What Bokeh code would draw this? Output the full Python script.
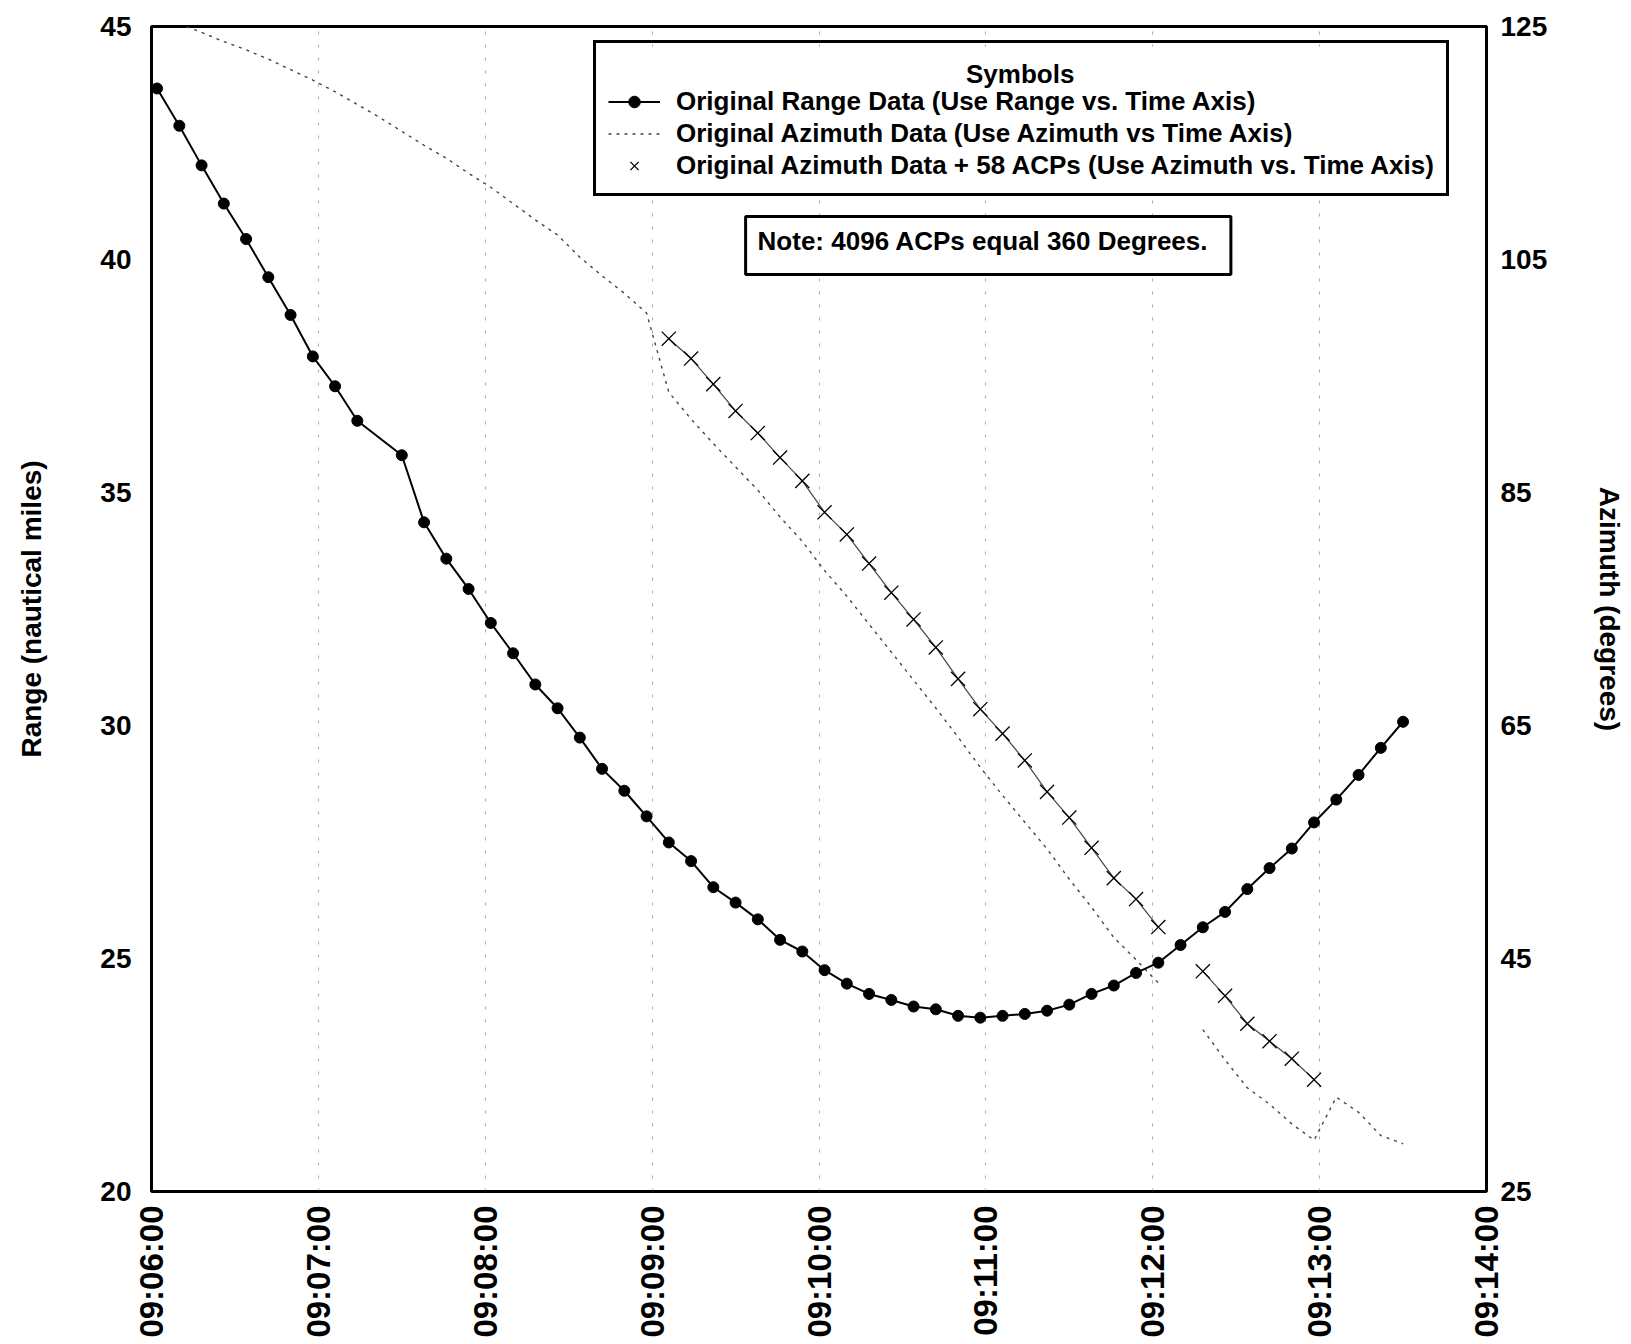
import math
from bokeh.plotting import figure
from bokeh.models import (Range1d, LinearAxis, FixedTicker, Legend, LegendItem,
                          Label, BoxAnnotation)
from bokeh.embed import file_html
from bokeh.resources import INLINE

# ---------------- data ----------------
scan_times = [
    "09:06:02", "09:06:10", "09:06:18", "09:06:26", "09:06:34", "09:06:42", "09:06:50", "09:06:58",
    "09:07:06", "09:07:14", "09:07:22", "09:07:30", "09:07:38", "09:07:46", "09:07:54", "09:08:02",
    "09:08:10", "09:08:18", "09:08:26", "09:08:34", "09:08:42", "09:08:50", "09:08:58", "09:09:06",
    "09:09:14", "09:09:22", "09:09:30", "09:09:38", "09:09:46", "09:09:54", "09:10:02", "09:10:10",
    "09:10:18", "09:10:26", "09:10:34", "09:10:42", "09:10:50", "09:10:58", "09:11:06", "09:11:14",
    "09:11:22", "09:11:30", "09:11:38", "09:11:46", "09:11:54", "09:12:02", "09:12:10", "09:12:18",
    "09:12:26", "09:12:34", "09:12:42", "09:12:50", "09:12:58", "09:13:06", "09:13:14", "09:13:22",
    "09:13:30",
]

range_nm = [
    43.67, 42.87, 42.02, 41.20, 40.44, 39.62, 38.81, 37.92, 37.28, 36.54,
    None, 35.80, 34.36, 33.58, 32.93, 32.20, 31.55, 30.88, 30.37, 29.74,
    29.07, 28.60, 28.05, 27.49, 27.09, 26.53, 26.20, 25.84, 25.40, 25.15,
    24.75, 24.46, 24.24, 24.11, 23.97, 23.91, 23.77, 23.73, 23.77, 23.81,
    23.88, 24.01, 24.24, 24.42, 24.69, 24.91, 25.29, 25.67, 26.00, 26.49,
    26.94, 27.36, 27.92, 28.41, 28.94, 29.52, 30.08,
]

azimuth_deg = [
    126.0, 125.2, 124.5, 123.7, 123.0, 122.2, 121.3, 120.4, 119.4, 118.3,
    117.2, 116.0, 114.8, 113.7, 112.4, 111.2, 109.8, 108.4, 107.1, 105.2,
    103.6, 102.1, 100.4, 93.6, 91.3, 89.2, 87.2, 85.2, 82.9, 80.8,
    78.3, 76.1, 73.7, 71.3, 68.9, 66.5, 64.0, 61.4, 59.0, 56.7,
    54.4, 51.8, 49.4, 46.8, 44.9, 42.9, None, 38.9, 36.3, 33.9,
    32.5, 30.8, 29.4, 33.1, 31.8, 29.8, 29.1,
]

azimuth_plus58_deg = [
    None, None, None, None, None, None, None, None, None, None,
    None, None, None, None, None, None, None, None, None, None,
    None, None, None, 98.2, 96.5, 94.3, 92.0, 90.1, 88.0, 86.0,
    83.3, 81.4, 78.9, 76.4, 74.1, 71.7, 69.0, 66.4, 64.3, 62.0,
    59.3, 57.1, 54.5, 51.9, 50.1, 47.7, None, 43.9, 41.8, 39.4,
    37.9, 36.4, 34.6, None, None, None, None,
]

x_tick_labels = ["09:06:00", "09:07:00", "09:08:00", "09:09:00", "09:10:00",
                 "09:11:00", "09:12:00", "09:13:00", "09:14:00"]
range_ticks = [20, 25, 30, 35, 40, 45]
azimuth_ticks = [25, 45, 65, 85, 105, 125]

series_names = [
    "Original Range Data (Use Range vs. Time Axis)",
    "Original Azimuth Data (Use Azimuth vs Time Axis)",
    "Original Azimuth Data + 58 ACPs (Use Azimuth vs. Time Axis)",
]
legend_title = "Symbols"
note_text = "Note:  4096 ACPs equal 360 Degrees."
left_title = "Range (nautical miles)"
right_title = "Azimuth (degrees)"


def to_sec(s):
    h, m, sec = (int(v) for v in s.split(":"))
    return h * 3600 + m * 60 + sec


t_all = [to_sec(s) for s in scan_times]
x_ticks = [to_sec(s) for s in x_tick_labels]
nan = float("nan")

rng_t = [t for t, v in zip(t_all, range_nm) if v is not None]
rng_v = [v for v in range_nm if v is not None]
az_v = [nan if v is None else v for v in azimuth_deg]
az58_v = [nan if v is None else v for v in azimuth_plus58_deg]

# ---------------- figure ----------------
W, H = 1628, 1340
BL, BR, BT, BB = 151, 140, 26, 149
FONT = "Liberation Sans"

p = figure(width=W, height=H,
           x_range=Range1d(x_ticks[0], x_ticks[-1]),
           y_range=Range1d(range_ticks[0], range_ticks[-1]),
           output_backend="svg", toolbar_location=None,
           min_border_left=BL, min_border_right=BR,
           min_border_top=BT, min_border_bottom=BB)
p.extra_y_ranges = {"az": Range1d(azimuth_ticks[0], azimuth_ticks[-1])}
p.outline_line_color = "black"
p.outline_line_width = 3
p.outline_line_alpha = 1.0
p.background_fill_color = "white"
p.border_fill_color = "white"

# grid
p.ygrid.visible = False
p.xgrid.ticker = FixedTicker(ticks=x_ticks[1:-1])
p.xgrid.grid_line_color = "#555555"
p.xgrid.grid_line_alpha = 0.5
p.xgrid.grid_line_dash = "3 10"
p.xgrid.grid_line_width = 1


def style_axis(ax, size, standoff, title_standoff):
    ax.axis_line_color = None
    ax.major_tick_line_color = None
    ax.minor_tick_line_color = None
    ax.major_tick_in = 0
    ax.major_tick_out = 0
    ax.minor_tick_in = 0
    ax.minor_tick_out = 0
    ax.major_label_text_font = FONT
    ax.major_label_text_font_style = "bold"
    ax.major_label_text_font_size = f"{size}px"
    ax.major_label_text_color = "black"
    ax.major_label_standoff = standoff
    ax.axis_label_text_font = FONT
    ax.axis_label_text_font_style = "bold"
    ax.axis_label_text_font_size = "28px"
    ax.axis_label_text_color = "black"
    ax.axis_label_standoff = title_standoff


xa = p.xaxis[0]
xa.ticker = FixedTicker(ticks=x_ticks)
xa.major_label_overrides = {tk: lab for tk, lab in zip(x_ticks, x_tick_labels)}
xa.major_label_orientation = math.pi / 2
style_axis(xa, 33, 14, 0)

ya = p.yaxis[0]
ya.ticker = FixedTicker(ticks=range_ticks)
ya.axis_label = left_title
style_axis(ya, 28, 20, 50)

ra = LinearAxis(y_range_name="az", ticker=FixedTicker(ticks=azimuth_ticks),
                axis_label=right_title)
style_axis(ra, 28, 14, 44)
p.add_layout(ra, "right")

# ---------------- series ----------------
a_line = p.line(t_all, az_v, y_range_name="az", line_color="#444444",
                line_width=1.4, line_dash="3 5")
p58_line = p.line(t_all, az58_v, y_range_name="az", line_color="#222222",
                  line_width=1.2, line_alpha=0.85)
p58_marks = p.scatter(t_all, az58_v, y_range_name="az", marker="x", size=20,
                      line_color="black", line_width=1.3)
r_line = p.line(rng_t, rng_v, line_color="black", line_width=2)
r_dots = p.scatter(rng_t, rng_v, marker="circle", size=11,
                   fill_color="black", line_color="black")

# helpers: page pixel -> data (for annotation placement)
FL, FR = BL, W - BR
FT, FB = BT, H - BB


def xd(px):
    return x_ticks[0] + (px - FL) / (FR - FL) * (x_ticks[-1] - x_ticks[0])


def yd(py):
    return range_ticks[-1] - (py - FT) / (FB - FT) * (range_ticks[-1] - range_ticks[0])


# white backing for the legend box (legend itself is transparent)
p.add_layout(BoxAnnotation(left=xd(594), right=xd(1448), top=yd(46), bottom=yd(195),
                           fill_color="white", fill_alpha=1.0,
                           line_color=None, level="annotation"))

# ---------------- legend ----------------
legend = Legend(
    items=[
        LegendItem(label=series_names[0], renderers=[r_line, r_dots]),
        LegendItem(label=series_names[1], renderers=[a_line]),
        LegendItem(label=series_names[2], renderers=[p58_marks]),
    ],
    location=(442, 995),
    title=" ",
    title_text_font=FONT, title_text_font_size="26px", title_standoff=0,
    label_text_font=FONT, label_text_font_style="bold", label_text_font_size="26px",
    label_text_color="black",
    glyph_width=52, glyph_height=29, label_height=29, label_standoff=16,
    padding=12, spacing=1, margin=0,
    border_line_color="black", border_line_width=3, border_line_alpha=1.0,
    background_fill_color="white", background_fill_alpha=0.0,
)
p.add_layout(legend)

p.add_layout(Label(x=xd(1021), y=yd(73), text=legend_title, text_align="center",
                   text_baseline="middle", text_font=FONT, text_font_style="bold",
                   text_font_size="26px", text_color="black", level="overlay"))

p.add_layout(BoxAnnotation(left=xd(746), right=xd(1232), top=yd(216), bottom=yd(274),
                           fill_color="white", fill_alpha=1.0,
                           line_color="black", line_width=3, line_alpha=1.0))
p.add_layout(Label(x=xd(758), y=yd(240), text=note_text, text_align="left",
                   text_baseline="middle", text_font=FONT, text_font_style="bold",
                   text_font_size="26px", text_color="black", level="overlay"))

open("out.html", "w").write(file_html(p, INLINE))
